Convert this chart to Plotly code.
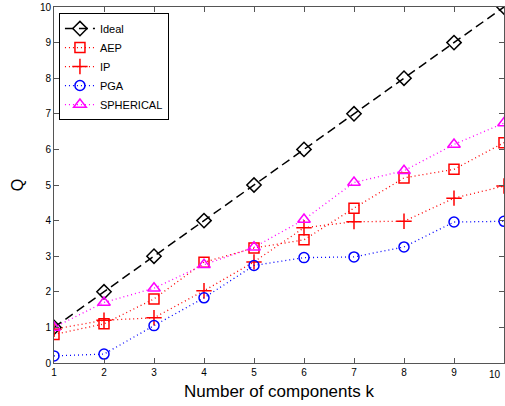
import plotly.graph_objects as go

k = [1, 2, 3, 4, 5, 6, 7, 8, 9, 10]
ideal = [1, 2, 3, 4, 5, 6, 7, 8, 9, 10]
aep = [0.80, 1.10, 1.80, 2.83, 3.23, 3.46, 4.35, 5.20, 5.44, 6.19]
ip = [0.95, 1.20, 1.27, 2.03, 2.84, 3.80, 3.97, 3.98, 4.63, 4.97]
pga = [0.20, 0.25, 1.05, 1.83, 2.74, 2.96, 2.98, 3.26, 3.96, 3.98]
spherical = [1.00, 1.70, 2.10, 2.76, 3.25, 4.03, 5.07, 5.40, 6.14, 6.74]

series = [
    ("Ideal", ideal, "black", "9px,5px", "diamond-open", 1.5, 11),
    ("AEP", aep, "#ff0000", "1px,3px", "square-open", 1.3, 10),
    ("IP", ip, "#ff0000", "1px,3px", "cross-thin-open", 1.3, 11),
    ("PGA", pga, "#0000ff", "1px,3px", "circle-open", 1.3, 10),
    ("SPHERICAL", spherical, "#ff00ff", "1px,3px", "triangle-up-open", 1.3, 11),
]

fig = go.Figure()
for name, y, color, dash, sym, lw, ms in series:
    fig.add_trace(go.Scatter(
        x=k, y=y, name=name, mode="lines+markers",
        line=dict(color=color, dash=dash, width=lw),
        marker=dict(symbol=sym, size=ms, color=color, line=dict(color=color, width=1.5)),
    ))

axis_common = dict(
    showgrid=False, zeroline=False, showline=True, linecolor="#555555", linewidth=1,
    mirror="ticks", ticks="inside", ticklen=5, tickcolor="#555555",
    tickfont=dict(size=10, color="black", family="Liberation Sans, Arial, sans-serif"),
)

fig.update_layout(
    width=505, height=406,
    margin=dict(l=54, r=1, t=7, b=43),
    plot_bgcolor="white", paper_bgcolor="white",
    font=dict(family="Liberation Sans, Arial, sans-serif", color="black"),
    xaxis=dict(range=[1, 10], tickvals=k[:-1], title=dict(text="Number of components k", font=dict(size=17), standoff=8), **axis_common),
    yaxis=dict(range=[0, 10], tickvals=list(range(0, 11)), title=dict(text="Q", font=dict(size=16), standoff=12), **axis_common),
    legend=dict(x=0.011, y=0.983, xanchor="left", yanchor="top",
                bgcolor="white", bordercolor="black", borderwidth=1,
                font=dict(size=11), tracegroupgap=0),
    showlegend=True,
)

# last x tick label, kept inside the right edge of the figure
fig.add_annotation(x=k[-1], y=0, xref="x", yref="paper", text=str(k[-1]),
                   showarrow=False, yanchor="top", xanchor="right", yshift=-4, xshift=-1,
                   font=dict(size=10, color="black", family="Liberation Sans, Arial, sans-serif"))

fig.write_html("out.html")
